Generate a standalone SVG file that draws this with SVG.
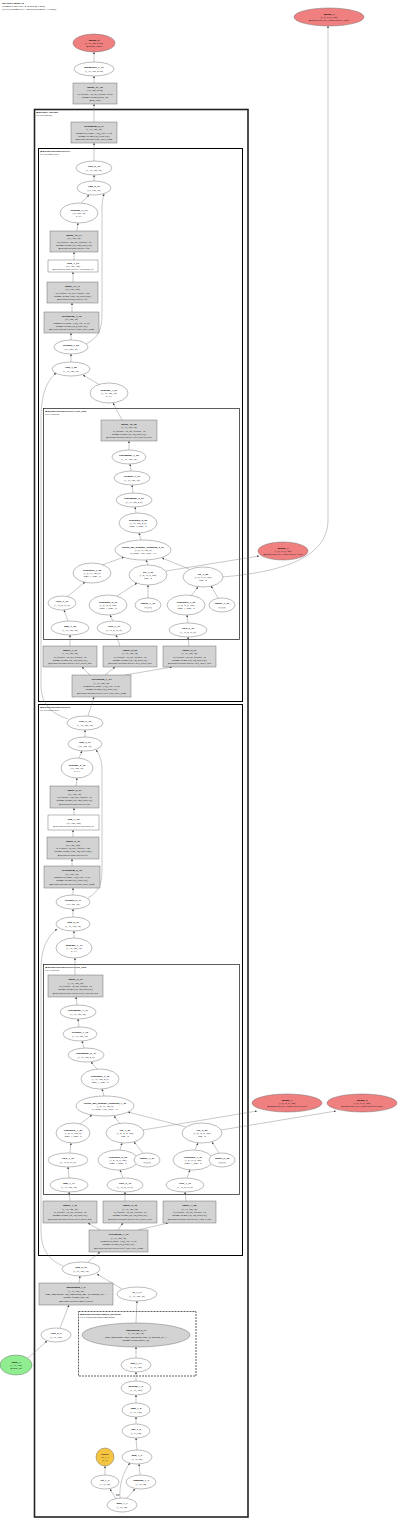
<svg xmlns="http://www.w3.org/2000/svg" width="400" height="1520" viewBox="0 0 400 1520">
<style>
text{font-family:"Liberation Serif","Times New Roman",serif;font-size:2.5px;fill:#000}
.n text{text-anchor:middle}
.b{font-weight:bold;font-size:2.8px}
.e{fill:#fff;stroke:#555;stroke-width:0.4}
.g{fill:#d3d3d3;stroke:#555;stroke-width:0.4}
.o{fill:#f08080;stroke:#555;stroke-width:0.4}
.in{fill:#90ee90;stroke:#555;stroke-width:0.4}
.y{fill:#f5c542;stroke:#555;stroke-width:0.4}
.c0{fill:none;stroke:#222;stroke-width:1.6}
.c1{fill:none;stroke:#000;stroke-width:1}
.c2{fill:none;stroke:#333;stroke-width:0.8}
.cd{fill:none;stroke:#333;stroke-width:0.8;stroke-dasharray:2,1}
.ct{font-size:2.5px}
.ctb{font-size:2.7px;font-weight:bold}
.tt{font-size:2.7px}
#edges path{fill:none;stroke:#777;stroke-width:0.4;marker-end:url(#ah)}
</style>
<defs>
<marker id="ah" viewBox="0 0 10 10" refX="10" refY="5" markerWidth="2.2" markerHeight="2.2" markerUnits="userSpaceOnUse" orient="auto"><path d="M0,0 L10,5 L0,10 z" fill="#444"/></marker>
</defs>
<rect width="400" height="1520" fill="#fff"/>
<g id="title">
<text x="2" y="3.6" class="ctb">GPTForCausalLM</text>
<text x="2" y="6.7" class="tt">Estimated total size: 4.34 MB (4.3 MB)</text>
<text x="2" y="9.8" class="tt">#(GPU) params/cell: 1.02 MB (trainable: 1.0 MB)</text>
</g>
<g id="clusters">
<rect class="c0" x="34.5" y="109.5" width="213.5" height="1407.5"/>
<text x="36" y="113.3" class="ctb">@decoder: decoder</text>
<text x="36" y="116.2" class="ct">GPTDecoder(0)</text>
<rect class="c1" x="38.5" y="148.5" width="204" height="553"/>
<text x="40" y="152" class="ctb">@decoder.decoder.layers.1</text>
<text x="40" y="154.9" class="ct">GPTDecoderLayer</text>
<rect class="c2" x="43.5" y="408.5" width="196" height="231"/>
<text x="45" y="412" class="ctb">@decoder.decoder.layers.1.self_attn</text>
<text x="45" y="414.9" class="ct">GPTAttention</text>
<rect class="c1" x="38.5" y="704.5" width="204" height="551"/>
<text x="40" y="708" class="ctb">@decoder.decoder.layers.0</text>
<text x="40" y="710.9" class="ct">GPTDecoderLayer</text>
<rect class="c2" x="43.5" y="964.5" width="196" height="230"/>
<text x="45" y="968" class="ctb">@decoder.decoder.layers.0.self_attn</text>
<text x="45" y="970.9" class="ct">GPTAttention</text>
<rect class="cd" x="78.5" y="1311.5" width="117.5" height="64.5"/>
<text x="80" y="1315" class="ctb">@decoder.decoder.embed_positions</text>
<text x="80" y="1317.9" class="ct">GPTLearnedPositionalEmbedding</text>
</g>
<g id="edges">
<path d="M94,62 L94,52"/>
<path d="M94,83 L94,76"/>
<path d="M94,122 L94,104"/>
<path d="M94,161 L94,143"/>
<path d="M94,181 L94,175"/>
<path d="M81,203 L89,195"/>
<path d="M86,344 C98,338 102,330 102,315 L102,210 C102,202 103,198 104,194"/>
<path d="M77,231 L78,223"/>
<path d="M74,260 L74,252"/>
<path d="M73,282 L73,272"/>
<path d="M72,312 L72,303"/>
<path d="M71,340 L71,333"/>
<path d="M71,362 L71,354"/>
<path d="M100,385 L83,375"/>
<path d="M68,719 C50,713 41,703 41,685 L41,420 C41,395 46,382 56,373"/>
<path d="M122,420 L113,403"/>
<path d="M129,450 L129,441"/>
<path d="M131,471 L130,464"/>
<path d="M133,493 L132,485"/>
<path d="M136,513 L135,507"/>
<path d="M141,540 L139,533"/>
<path d="M102,565 L124,557"/>
<path d="M148,565 L146,560"/>
<path d="M189,569 L162,558"/>
<path d="M166,571 L259,556"/>
<path d="M222,577 C270,573 328,562 328,520 L328,26"/>
<path d="M67,597 L85,582"/>
<path d="M117,596 L137,583"/>
<path d="M148,598 L148,585"/>
<path d="M191,596 L198,587"/>
<path d="M218,598 L211,586"/>
<path d="M68,621 L64,610"/>
<path d="M113,621 L110,615"/>
<path d="M188,623 L187,615"/>
<path d="M70,646 L70,635"/>
<path d="M120,646 L116,635"/>
<path d="M189,646 L188,637"/>
<path d="M90,675 L82,667"/>
<path d="M105,675 L115,667"/>
<path d="M125,675 L172,667"/>
<path d="M88,716 L94,697"/>
<path d="M85,737 L85,730"/>
<path d="M79,758 L82,751"/>
<path d="M88,898 C98,892 102,885 102,870 L102,770 C102,760 99,754 96,750"/>
<path d="M76,786 L77,778"/>
<path d="M74,815 L74,808"/>
<path d="M73,837 L73,830"/>
<path d="M72,866 L72,859"/>
<path d="M73,895 L73,888"/>
<path d="M73,917 L73,909"/>
<path d="M74,938 L74,931"/>
<path d="M63,1266 C49,1260 41,1250 41,1230 L41,970 C41,950 46,938 57,929"/>
<path d="M75,975 L75,958"/>
<path d="M77,1005 L76,997"/>
<path d="M79,1027 L78,1019"/>
<path d="M84,1048 L82,1041"/>
<path d="M97,1069 L91,1062"/>
<path d="M104,1096 L102,1089"/>
<path d="M80,1124 L92,1115"/>
<path d="M120,1124 L114,1116"/>
<path d="M186,1127 L128,1112"/>
<path d="M143,1130 L257,1111"/>
<path d="M221,1130 L336,1111"/>
<path d="M70,1153 L71,1143"/>
<path d="M120,1150 L122,1143"/>
<path d="M143,1153 L134,1142"/>
<path d="M195,1150 L198,1143"/>
<path d="M219,1153 L212,1142"/>
<path d="M69,1178 L68,1167"/>
<path d="M123,1178 L120,1170"/>
<path d="M187,1178 L190,1170"/>
<path d="M70,1201 L69,1192"/>
<path d="M125,1201 L125,1192"/>
<path d="M186,1201 L185,1192"/>
<path d="M100,1230 L88,1223"/>
<path d="M118,1230 L123,1223"/>
<path d="M138,1230 L168,1223"/>
<path d="M88,1262 L100,1252"/>
<path d="M79,1283 L80,1276"/>
<path d="M122,1289 L97,1274"/>
<path d="M60,1328 L69,1305"/>
<path d="M28,1358 L47,1341"/>
<path d="M136,1323 L137,1301"/>
<path d="M136,1358 L136,1347"/>
<path d="M136,1381 L136,1372"/>
<path d="M136,1403 L136,1395"/>
<path d="M136,1424 L136,1417"/>
<path d="M137,1450 L136,1438"/>
<path d="M140,1475 L139,1464"/>
<path d="M120,1498 C119,1485 123,1472 130,1463"/>
<path d="M127,1498 L135,1489"/>
<path d="M116,1499 L110,1489"/>
<path d="M105,1475 L105,1466"/>
<text x="116" y="1494.5" style="font-size:2.8px;font-weight:bold;text-decoration:underline">LT</text>
</g>
<g id="output_0" class="n"><ellipse class="o" cx="94" cy="43" rx="21" ry="9"/><text x="94" y="40.6"><tspan class="b">output_0</tspan><tspan x="94" dy="3.4">(1, 16, 128, 8192)</tspan><tspan x="94" dy="3.4">@output_logits</tspan></text></g>
<g id="output_4" class="n"><ellipse class="o" cx="329" cy="17" rx="35" ry="9"/><text x="329" y="14.6"><tspan class="b">output_4</tspan><tspan x="329" dy="3.4">(1, 4, 16, 8, 128)</tspan><tspan x="329" dy="3.4">@output.past_key_values.layers.1.value</tspan></text></g>
<g id="unsqueeze_1_79" class="n"><ellipse class="e" cx="94" cy="69" rx="20" ry="7"/><text x="94" y="68.3"><tspan class="b">unsqueeze_1_79</tspan><tspan x="94" dy="3.4">(1, 16, 128, 8192)</tspan></text></g>
<g id="linear_51_78" class="n"><rect class="g" x="73" y="83" width="44" height="21"/><text x="95" y="87.7"><tspan class="b">linear_51_78</tspan><tspan x="95" dy="3.4">(16, 128, 8192)</tspan><tspan x="95" dy="3.4">in_features=32, out_features=8192</tspan><tspan x="95" dy="3.4">params: weight (8192, 32)</tspan><tspan x="95" dy="3.4">@lm_head</tspan></text></g>
<g id="layernorm_0_77" class="n"><rect class="g" x="71" y="122" width="46" height="21"/><text x="94" y="126.7"><tspan class="b">layernorm_0_77</tspan><tspan x="94" dy="3.4">(1, 16, 128, 32)</tspan><tspan x="94" dy="3.4">normalized_shape=(32,), eps=1e-05</tspan><tspan x="94" dy="3.4">params: weight (32,), bias (32,)</tspan><tspan x="94" dy="3.4">@decoder.decoder.final_layer_norm</tspan></text></g>
<g id="view_6_76" class="n"><ellipse class="e" cx="94" cy="168" rx="18" ry="7"/><text x="94" y="167.3"><tspan class="b">view_6_76</tspan><tspan x="94" dy="3.4">(1, 16, 128, 32)</tspan></text></g>
<g id="add_6_75" class="n"><ellipse class="e" cx="94" cy="188" rx="17" ry="7"/><text x="94" y="187.3"><tspan class="b">add_6_75</tspan><tspan x="94" dy="3.4">(16, 128, 32)</tspan></text></g>
<g id="dropout_4_74" class="n"><ellipse class="e" cx="79" cy="213" rx="19" ry="10"/><text x="79" y="210.6"><tspan class="b">dropout_4_74</tspan><tspan x="79" dy="3.4">(16, 128, 32)</tspan><tspan x="79" dy="3.4">p=0.1</tspan></text></g>
<g id="linear_12_73" class="n"><rect class="g" x="50" y="231" width="48" height="21"/><text x="74" y="235.7"><tspan class="b">linear_12_73</tspan><tspan x="74" dy="3.4">(16, 128, 32)</tspan><tspan x="74" dy="3.4">in_features=128, out_features=32</tspan><tspan x="74" dy="3.4">params: weight (32, 128), bias (32,)</tspan><tspan x="74" dy="3.4">@decoder.decoder.layers.1.fc2</tspan></text></g>
<g id="relu_3_72" class="n"><rect class="e" x="48" y="260" width="50" height="12"/><text x="73" y="263.6"><tspan class="b">relu_3_72</tspan><tspan x="73" dy="3.4">(16, 128, 128)</tspan><tspan x="73" dy="3.4">@decoder.decoder.layers.1.activation_fn</tspan></text></g>
<g id="linear_11_71" class="n"><rect class="g" x="47" y="282" width="51" height="21"/><text x="72.5" y="286.7"><tspan class="b">linear_11_71</tspan><tspan x="72.5" dy="3.4">(16, 128, 128)</tspan><tspan x="72.5" dy="3.4">in_features=32, out_features=128</tspan><tspan x="72.5" dy="3.4">params: weight (128, 32), bias (128,)</tspan><tspan x="72.5" dy="3.4">@decoder.decoder.layers.1.fc1</tspan></text></g>
<g id="layernorm_3_70" class="n"><rect class="g" x="44" y="312" width="55" height="21"/><text x="71.5" y="316.7"><tspan class="b">layernorm_3_70</tspan><tspan x="71.5" dy="3.4">(16, 128, 32)</tspan><tspan x="71.5" dy="3.4">normalized_shape=(32,), eps=1e-05</tspan><tspan x="71.5" dy="3.4">params: weight (32,), bias (32,)</tspan><tspan x="71.5" dy="3.4">@decoder.decoder.layers.1.final_layer_norm</tspan></text></g>
<g id="reshape_3_69" class="n"><ellipse class="e" cx="71" cy="347" rx="17" ry="7"/><text x="71" y="346.3"><tspan class="b">reshape_3_69</tspan><tspan x="71" dy="3.4">(16, 128, 32)</tspan></text></g>
<g id="add_3_68" class="n"><ellipse class="e" cx="71" cy="369" rx="19" ry="7"/><text x="71" y="368.3"><tspan class="b">add_3_68</tspan><tspan x="71" dy="3.4">(1, 16, 128, 32)</tspan></text></g>
<g id="dropout_3_67" class="n"><ellipse class="e" cx="109" cy="393" rx="19" ry="10"/><text x="109" y="390.6"><tspan class="b">dropout_3_67</tspan><tspan x="109" dy="3.4">(1, 16, 128, 32)</tspan><tspan x="109" dy="3.4">p=0.1</tspan></text></g>
<g id="linear_10_66" class="n"><rect class="g" x="101" y="420" width="56" height="21"/><text x="129" y="424.7"><tspan class="b">linear_10_66</tspan><tspan x="129" dy="3.4">(1, 16, 128, 32)</tspan><tspan x="129" dy="3.4">in_features=32, out_features=32</tspan><tspan x="129" dy="3.4">params: weight (32, 32), bias (32,)</tspan><tspan x="129" dy="3.4">@decoder.decoder.layers.1.self_attn.out_proj</tspan></text></g>
<g id="contiguous_3_65" class="n"><ellipse class="e" cx="129" cy="457" rx="17" ry="7"/><text x="129" y="456.3"><tspan class="b">contiguous_3_65</tspan><tspan x="129" dy="3.4">(1, 16, 128, 32)</tspan></text></g>
<g id="reshape_3_64" class="n"><ellipse class="e" cx="132" cy="478" rx="18" ry="7"/><text x="132" y="477.3"><tspan class="b">reshape_3_64</tspan><tspan x="132" dy="3.4">(1, 16, 128, 32)</tspan></text></g>
<g id="contiguous_2_63" class="n"><ellipse class="e" cx="134" cy="500" rx="18" ry="7"/><text x="134" y="499.3"><tspan class="b">contiguous_2_63</tspan><tspan x="134" dy="3.4">(1, 16, 128, 4, 8)</tspan></text></g>
<g id="transpose_8_62" class="n"><ellipse class="e" cx="138" cy="523" rx="19" ry="10"/><text x="138" y="520.6"><tspan class="b">transpose_8_62</tspan><tspan x="138" dy="3.4">(1, 16, 128, 4, 8)</tspan><tspan x="138" dy="3.4">dim0=1, dim1=2</tspan></text></g>
<g id="sdpa_2_61" class="n"><ellipse class="e" cx="143" cy="550" rx="28" ry="10"/><text x="143" y="547.6"><tspan class="b">scaled_dot_product_attention_2_61</tspan><tspan x="143" dy="3.4">(1, 4, 16, 128, 8)</tspan><tspan x="143" dy="3.4">is_causal=True, scale=1.0</tspan></text></g>
<g id="output_3" class="n"><ellipse class="o" cx="283" cy="551" rx="25" ry="9"/><text x="283" y="548.6"><tspan class="b">output_3</tspan><tspan x="283" dy="3.4">(1, 4, 16, 8, 128)</tspan><tspan x="283" dy="3.4">@output.past_key_values.layers.1.keys</tspan></text></g>
<g id="transpose_5_58" class="n"><ellipse class="e" cx="92" cy="573" rx="19" ry="10"/><text x="92" y="570.6"><tspan class="b">transpose_5_58</tspan><tspan x="92" dy="3.4">(1, 4, 16, 128, 8)</tspan><tspan x="92" dy="3.4">dim0=1, dim1=2</tspan></text></g>
<g id="cat_3_59" class="n"><ellipse class="e" cx="148" cy="575" rx="19" ry="10"/><text x="148" y="572.6"><tspan class="b">cat_3_59</tspan><tspan x="148" dy="3.4">(1, 4, 16, 8, 128)</tspan><tspan x="148" dy="3.4">dim=-2</tspan></text></g>
<g id="cat_4_60" class="n"><ellipse class="e" cx="203" cy="577" rx="20" ry="10"/><text x="203" y="574.6"><tspan class="b">cat_4_60</tspan><tspan x="203" dy="3.4">(1, 4, 16, 8, 128)</tspan><tspan x="203" dy="3.4">dim=-2</tspan></text></g>
<g id="view_4_57" class="n"><ellipse class="e" cx="62" cy="603" rx="14" ry="7"/><text x="62" y="602.3"><tspan class="b">view_4_57</tspan><tspan x="62" dy="3.4">(1, 16, 4, 16, 8)</tspan></text></g>
<g id="transpose_6_54" class="n"><ellipse class="e" cx="108" cy="605" rx="19" ry="10"/><text x="108" y="602.6"><tspan class="b">transpose_6_54</tspan><tspan x="108" dy="3.4">(1, 4, 16, 8, 128)</tspan><tspan x="108" dy="3.4">dim0=1, dim1=2</tspan></text></g>
<g id="tensor_3_55" class="n"><ellipse class="e" cx="148" cy="605" rx="13" ry="7"/><text x="148" y="604.3"><tspan class="b">tensor_3_55</tspan><tspan x="148" dy="3.4">(0,) [0]</tspan></text></g>
<g id="transpose_7_56" class="n"><ellipse class="e" cx="186" cy="605" rx="19" ry="10"/><text x="186" y="602.6"><tspan class="b">transpose_7_56</tspan><tspan x="186" dy="3.4">(1, 4, 16, 8, 128)</tspan><tspan x="186" dy="3.4">dim0=1, dim1=2</tspan></text></g>
<g id="tensor_4_59" class="n"><ellipse class="e" cx="222" cy="605" rx="13" ry="7"/><text x="222" y="604.3"><tspan class="b">tensor_4_59</tspan><tspan x="222" dy="3.4">(0,) [0]</tspan></text></g>
<g id="mul_4_48" class="n"><ellipse class="e" cx="70" cy="628" rx="19" ry="7"/><text x="70" y="627.3"><tspan class="b">mul_4_48</tspan><tspan x="70" dy="3.4">(1, 16, 128, 32)</tspan></text></g>
<g id="view_7_53" class="n"><ellipse class="e" cx="114" cy="628" rx="17" ry="7"/><text x="114" y="627.3"><tspan class="b">view_7_53</tspan><tspan x="114" dy="3.4">(1, 16, 4, 16, 8)</tspan></text></g>
<g id="view_6_52" class="n"><ellipse class="e" cx="188" cy="630" rx="19" ry="7"/><text x="188" y="629.3"><tspan class="b">view_6_52</tspan><tspan x="188" dy="3.4">(1, 16, 4, 16, 8)</tspan></text></g>
<g id="linear_7_47" class="n"><rect class="g" x="43" y="646" width="54" height="21"/><text x="70" y="650.7"><tspan class="b">linear_7_47</tspan><tspan x="70" dy="3.4">(1, 16, 128, 32)</tspan><tspan x="70" dy="3.4">in_features=32, out_features=32</tspan><tspan x="70" dy="3.4">params: weight (32, 32), bias (32,)</tspan><tspan x="70" dy="3.4">@decoder.decoder.layers.1.self_attn.q_proj</tspan></text></g>
<g id="linear_8_50" class="n"><rect class="g" x="103" y="646" width="54" height="21"/><text x="130" y="650.7"><tspan class="b">linear_8_50</tspan><tspan x="130" dy="3.4">(1, 16, 128, 32)</tspan><tspan x="130" dy="3.4">in_features=32, out_features=32</tspan><tspan x="130" dy="3.4">params: weight (32, 32), bias (32,)</tspan><tspan x="130" dy="3.4">@decoder.decoder.layers.1.self_attn.k_proj</tspan></text></g>
<g id="linear_9_51" class="n"><rect class="g" x="163" y="646" width="53" height="21"/><text x="189.5" y="650.7"><tspan class="b">linear_9_51</tspan><tspan x="189.5" dy="3.4">(1, 16, 128, 32)</tspan><tspan x="189.5" dy="3.4">in_features=32, out_features=32</tspan><tspan x="189.5" dy="3.4">params: weight (32, 32), bias (32,)</tspan><tspan x="189.5" dy="3.4">@decoder.decoder.layers.1.self_attn.v_proj</tspan></text></g>
<g id="layernorm_1_44" class="n"><rect class="g" x="72" y="675" width="59" height="22"/><text x="101.5" y="680.2"><tspan class="b">layernorm_1_44</tspan><tspan x="101.5" dy="3.4">(1, 16, 128, 32)</tspan><tspan x="101.5" dy="3.4">normalized_shape=(32,), eps=1e-05</tspan><tspan x="101.5" dy="3.4">params: weight (32,), bias (32,)</tspan><tspan x="101.5" dy="3.4">@decoder.decoder.layers.1.self_attn_layer_norm</tspan></text></g>
<g id="view_5_45" class="n"><ellipse class="e" cx="85" cy="723" rx="18" ry="7"/><text x="85" y="722.3"><tspan class="b">view_5_45</tspan><tspan x="85" dy="3.4">(1, 16, 128, 32)</tspan></text></g>
<g id="add_4_43" class="n"><ellipse class="e" cx="85" cy="744" rx="17" ry="7"/><text x="85" y="743.3"><tspan class="b">add_4_43</tspan><tspan x="85" dy="3.4">(16, 128, 32)</tspan></text></g>
<g id="dropout_2_42" class="n"><ellipse class="e" cx="77" cy="768" rx="16" ry="10"/><text x="77" y="765.6"><tspan class="b">dropout_2_42</tspan><tspan x="77" dy="3.4">(16, 128, 32)</tspan><tspan x="77" dy="3.4">p=0.1</tspan></text></g>
<g id="linear_6_41" class="n"><rect class="g" x="50" y="786" width="49" height="22"/><text x="74.5" y="791.2"><tspan class="b">linear_6_41</tspan><tspan x="74.5" dy="3.4">(16, 128, 32)</tspan><tspan x="74.5" dy="3.4">in_features=128, out_features=32</tspan><tspan x="74.5" dy="3.4">params: weight (32, 128), bias (32,)</tspan><tspan x="74.5" dy="3.4">@decoder.decoder.layers.0.fc2</tspan></text></g>
<g id="relu_1_40" class="n"><rect class="e" x="48" y="815" width="51" height="15"/><text x="73.5" y="820.1"><tspan class="b">relu_1_40</tspan><tspan x="73.5" dy="3.4">(16, 128, 128)</tspan><tspan x="73.5" dy="3.4">@decoder.decoder.layers.0.activation_fn</tspan></text></g>
<g id="linear_5_39" class="n"><rect class="g" x="47" y="837" width="52" height="22"/><text x="73" y="842.2"><tspan class="b">linear_5_39</tspan><tspan x="73" dy="3.4">(16, 128, 128)</tspan><tspan x="73" dy="3.4">in_features=32, out_features=128</tspan><tspan x="73" dy="3.4">params: weight (128, 32), bias (128,)</tspan><tspan x="73" dy="3.4">@decoder.decoder.layers.0.fc1</tspan></text></g>
<g id="layernorm_2_38" class="n"><rect class="g" x="44" y="866" width="56" height="22"/><text x="72" y="871.2"><tspan class="b">layernorm_2_38</tspan><tspan x="72" dy="3.4">(16, 128, 32)</tspan><tspan x="72" dy="3.4">normalized_shape=(32,), eps=1e-05</tspan><tspan x="72" dy="3.4">params: weight (32,), bias (32,)</tspan><tspan x="72" dy="3.4">@decoder.decoder.layers.0.final_layer_norm</tspan></text></g>
<g id="reshape_2_37" class="n"><ellipse class="e" cx="73" cy="902" rx="17" ry="7"/><text x="73" y="901.3"><tspan class="b">reshape_2_37</tspan><tspan x="73" dy="3.4">(16, 128, 32)</tspan></text></g>
<g id="add_2_36" class="n"><ellipse class="e" cx="73" cy="924" rx="17" ry="7"/><text x="73" y="923.3"><tspan class="b">add_2_36</tspan><tspan x="73" dy="3.4">(1, 16, 128, 32)</tspan></text></g>
<g id="dropout_1_35" class="n"><ellipse class="e" cx="74" cy="948" rx="18" ry="10"/><text x="74" y="945.6"><tspan class="b">dropout_1_35</tspan><tspan x="74" dy="3.4">(1, 16, 128, 32)</tspan><tspan x="74" dy="3.4">p=0.1</tspan></text></g>
<g id="linear_4_34" class="n"><rect class="g" x="48" y="975" width="55" height="22"/><text x="75.5" y="980.2"><tspan class="b">linear_4_34</tspan><tspan x="75.5" dy="3.4">(1, 16, 128, 32)</tspan><tspan x="75.5" dy="3.4">in_features=32, out_features=32</tspan><tspan x="75.5" dy="3.4">params: weight (32, 32), bias (32,)</tspan><tspan x="75.5" dy="3.4">@decoder.decoder.layers.0.self_attn.out_proj</tspan></text></g>
<g id="contiguous_1_33" class="n"><ellipse class="e" cx="78" cy="1012" rx="18" ry="7"/><text x="78" y="1011.3"><tspan class="b">contiguous_1_33</tspan><tspan x="78" dy="3.4">(1, 16, 128, 32)</tspan></text></g>
<g id="reshape_1_32" class="n"><ellipse class="e" cx="80" cy="1034" rx="17" ry="7"/><text x="80" y="1033.3"><tspan class="b">reshape_1_32</tspan><tspan x="80" dy="3.4">(1, 16, 128, 32)</tspan></text></g>
<g id="contiguous_0_31" class="n"><ellipse class="e" cx="86" cy="1055" rx="18" ry="7"/><text x="86" y="1054.3"><tspan class="b">contiguous_0_31</tspan><tspan x="86" dy="3.4">(1, 16, 128, 4, 8)</tspan></text></g>
<g id="transpose_4_30" class="n"><ellipse class="e" cx="100" cy="1079" rx="19" ry="10"/><text x="100" y="1076.6"><tspan class="b">transpose_4_30</tspan><tspan x="100" dy="3.4">(1, 16, 128, 4, 8)</tspan><tspan x="100" dy="3.4">dim0=1, dim1=2</tspan></text></g>
<g id="sdpa_1_29" class="n"><ellipse class="e" cx="105" cy="1106" rx="29" ry="10"/><text x="105" y="1103.6"><tspan class="b">scaled_dot_product_attention_1_29</tspan><tspan x="105" dy="3.4">(1, 4, 16, 128, 8)</tspan><tspan x="105" dy="3.4">is_causal=True, scale=1.0</tspan></text></g>
<g id="output_1" class="n"><ellipse class="o" cx="287" cy="1103" rx="35" ry="9"/><text x="287" y="1100.6"><tspan class="b">output_1</tspan><tspan x="287" dy="3.4">(1, 4, 16, 8, 128)</tspan><tspan x="287" dy="3.4">@output.past_key_values.layers.0.keys</tspan></text></g>
<g id="output_2" class="n"><ellipse class="o" cx="362" cy="1103" rx="35" ry="9"/><text x="362" y="1100.6"><tspan class="b">output_2</tspan><tspan x="362" dy="3.4">(1, 4, 16, 8, 128)</tspan><tspan x="362" dy="3.4">@output.past_key_values.layers.0.values</tspan></text></g>
<g id="transpose_1_25" class="n"><ellipse class="e" cx="73" cy="1133" rx="17" ry="10"/><text x="73" y="1130.6"><tspan class="b">transpose_1_25</tspan><tspan x="73" dy="3.4">(1, 4, 16, 128, 8)</tspan><tspan x="73" dy="3.4">dim0=1, dim1=2</tspan></text></g>
<g id="cat_1_26" class="n"><ellipse class="e" cx="125" cy="1133" rx="19" ry="10"/><text x="125" y="1130.6"><tspan class="b">cat_1_26</tspan><tspan x="125" dy="3.4">(1, 4, 16, 8, 128)</tspan><tspan x="125" dy="3.4">dim=-2</tspan></text></g>
<g id="cat_2_28" class="n"><ellipse class="e" cx="202" cy="1133" rx="20" ry="10"/><text x="202" y="1130.6"><tspan class="b">cat_2_28</tspan><tspan x="202" dy="3.4">(1, 4, 16, 8, 128)</tspan><tspan x="202" dy="3.4">dim=-2</tspan></text></g>
<g id="view_1_23" class="n"><ellipse class="e" cx="68" cy="1160" rx="20" ry="7"/><text x="68" y="1159.3"><tspan class="b">view_1_23</tspan><tspan x="68" dy="3.4">(1, 16, 4, 16, 8)</tspan></text></g>
<g id="transpose_2_22" class="n"><ellipse class="e" cx="118" cy="1160" rx="20" ry="10"/><text x="118" y="1157.6"><tspan class="b">transpose_2_22</tspan><tspan x="118" dy="3.4">(1, 4, 16, 8, 128)</tspan><tspan x="118" dy="3.4">dim0=1, dim1=2</tspan></text></g>
<g id="tensor_1_24" class="n"><ellipse class="e" cx="147" cy="1160" rx="13" ry="7"/><text x="147" y="1159.3"><tspan class="b">tensor_1_24</tspan><tspan x="147" dy="3.4">(0,) [0]</tspan></text></g>
<g id="transpose_3_27" class="n"><ellipse class="e" cx="193" cy="1160" rx="20" ry="10"/><text x="193" y="1157.6"><tspan class="b">transpose_3_27</tspan><tspan x="193" dy="3.4">(1, 4, 16, 8, 128)</tspan><tspan x="193" dy="3.4">dim0=1, dim1=2</tspan></text></g>
<g id="tensor_2_26" class="n"><ellipse class="e" cx="222" cy="1160" rx="13" ry="7"/><text x="222" y="1159.3"><tspan class="b">tensor_2_26</tspan><tspan x="222" dy="3.4">(0,) [0]</tspan></text></g>
<g id="mul_1_17" class="n"><ellipse class="e" cx="69" cy="1185" rx="19" ry="7"/><text x="69" y="1184.3"><tspan class="b">mul_1_17</tspan><tspan x="69" dy="3.4">(1, 16, 128, 32)</tspan></text></g>
<g id="view_2_19" class="n"><ellipse class="e" cx="125" cy="1185" rx="18" ry="7"/><text x="125" y="1184.3"><tspan class="b">view_2_19</tspan><tspan x="125" dy="3.4">(1, 16, 4, 16, 8)</tspan></text></g>
<g id="view_3_21" class="n"><ellipse class="e" cx="185" cy="1185" rx="19" ry="7"/><text x="185" y="1184.3"><tspan class="b">view_3_21</tspan><tspan x="185" dy="3.4">(1, 16, 4, 16, 8)</tspan></text></g>
<g id="linear_1_16" class="n"><rect class="g" x="43" y="1201" width="54" height="22"/><text x="70" y="1206.2"><tspan class="b">linear_1_16</tspan><tspan x="70" dy="3.4">(1, 16, 128, 32)</tspan><tspan x="70" dy="3.4">in_features=32, out_features=32</tspan><tspan x="70" dy="3.4">params: weight (32, 32), bias (32,)</tspan><tspan x="70" dy="3.4">@decoder.decoder.layers.0.self_attn.q_proj</tspan></text></g>
<g id="linear_2_18" class="n"><rect class="g" x="103" y="1201" width="54" height="22"/><text x="130" y="1206.2"><tspan class="b">linear_2_18</tspan><tspan x="130" dy="3.4">(1, 16, 128, 32)</tspan><tspan x="130" dy="3.4">in_features=32, out_features=32</tspan><tspan x="130" dy="3.4">params: weight (32, 32), bias (32,)</tspan><tspan x="130" dy="3.4">@decoder.decoder.layers.0.self_attn.k_proj</tspan></text></g>
<g id="linear_3_20" class="n"><rect class="g" x="163" y="1201" width="53" height="22"/><text x="189.5" y="1206.2"><tspan class="b">linear_3_20</tspan><tspan x="189.5" dy="3.4">(1, 16, 128, 32)</tspan><tspan x="189.5" dy="3.4">in_features=32, out_features=32</tspan><tspan x="189.5" dy="3.4">params: weight (32, 32), bias (32,)</tspan><tspan x="189.5" dy="3.4">@decoder.decoder.layers.0.self_attn.v_proj</tspan></text></g>
<g id="layernorm_1_12" class="n"><rect class="g" x="89" y="1230" width="59" height="22"/><text x="118.5" y="1235.2"><tspan class="b">layernorm_1_12</tspan><tspan x="118.5" dy="3.4">(1, 16, 128, 32)</tspan><tspan x="118.5" dy="3.4">normalized_shape=(32,), eps=1e-05</tspan><tspan x="118.5" dy="3.4">params: weight (32,), bias (32,)</tspan><tspan x="118.5" dy="3.4">@decoder.decoder.layers.0.self_attn_layer_norm</tspan></text></g>
<g id="add_2_10" class="n"><ellipse class="e" cx="81" cy="1269" rx="19" ry="7"/><text x="81" y="1268.3"><tspan class="b">add_2_10</tspan><tspan x="81" dy="3.4">(1, 16, 128, 32)</tspan></text></g>
<g id="embedding_1_2" class="n"><rect class="g" x="39" y="1283" width="74" height="22"/><text x="76" y="1288.2"><tspan class="b">embedding_1_2</tspan><tspan x="76" dy="3.4">(1, 16, 128, 32)</tspan><tspan x="76" dy="3.4">num_embeddings=128, embedding_dim=32, padding_idx=1</tspan><tspan x="76" dy="3.4">params: weight (128, 32)</tspan><tspan x="76" dy="3.4">@decoder.decoder.embed_tokens</tspan></text></g>
<g id="to_1_11" class="n"><ellipse class="e" cx="137" cy="1294" rx="20" ry="7"/><text x="137" y="1293.3"><tspan class="b">to_1_11</tspan><tspan x="137" dy="3.4">(1, 16, 128, 32)</tspan></text></g>
<g id="embedding_2_14" class="n"><ellipse class="g" cx="136" cy="1335" rx="54" ry="12"/><text x="136" y="1330.9"><tspan class="b">embedding_2_14</tspan><tspan x="136" dy="3.4">(1, 16, 128, 32)</tspan><tspan x="136" dy="3.4">num_embeddings=2050, embedding_dim=32, padding_idx=1</tspan><tspan x="136" dy="3.4">params: weight (2050, 32)</tspan></text></g>
<g id="view_0_5" class="n"><ellipse class="e" cx="56" cy="1335" rx="15" ry="7"/><text x="56" y="1334.3"><tspan class="b">view_0_5</tspan><tspan x="56" dy="3.4">(1, 16, 128)</tspan></text></g>
<g id="input_1" class="n"><ellipse class="in" cx="16" cy="1365" rx="16" ry="10"/><text x="16" y="1362.6"><tspan class="b">input_1</tspan><tspan x="16" dy="3.4">(1, 16, 128)</tspan><tspan x="16" dy="3.4">@input_ids</tspan></text></g>
<g id="add_1_13" class="n"><ellipse class="e" cx="136" cy="1365" rx="15" ry="7"/><text x="136" y="1364.3"><tspan class="b">add_1_13</tspan><tspan x="136" dy="3.4">(1, 16, 128)</tspan></text></g>
<g id="getitem_1_9" class="n"><ellipse class="e" cx="136" cy="1388" rx="15" ry="7"/><text x="136" y="1387.3"><tspan class="b">getitem_1_9</tspan><tspan x="136" dy="3.4">(1, 16, 128)</tspan></text></g>
<g id="long_1_8" class="n"><ellipse class="e" cx="136" cy="1410" rx="14" ry="7"/><text x="136" y="1409.3"><tspan class="b">long_1_8</tspan><tspan x="136" dy="3.4">(1, 16, 128)</tspan></text></g>
<g id="sub_1_6" class="n"><ellipse class="e" cx="136" cy="1431" rx="14" ry="7"/><text x="136" y="1430.3"><tspan class="b">sub_1_6</tspan><tspan x="136" dy="3.4">(1, 16, 64)</tspan></text></g>
<g id="TRUE" class="n"><circle class="y" cx="105" cy="1457" r="9"/><text x="105" y="1454.6"><tspan class="b">TRUE</tspan><tspan x="105" dy="3.4">cb_1_1</tspan><tspan x="105" dy="3.4">(1, 1)</tspan></text></g>
<g id="mul_1_5" class="n"><ellipse class="e" cx="137" cy="1457" rx="15" ry="7"/><text x="137" y="1456.3"><tspan class="b">mul_1_5</tspan><tspan x="137" dy="3.4">(1, 16, 64)</tspan></text></g>
<g id="eq_1_4" class="n"><ellipse class="e" cx="105" cy="1482" rx="14" ry="7"/><text x="105" y="1481.3"><tspan class="b">eq_1_4</tspan><tspan x="105" dy="3.4">(1, 16, 64)</tspan></text></g>
<g id="cumsum_1_4" class="n"><ellipse class="e" cx="141" cy="1482" rx="15" ry="7"/><text x="141" y="1481.3"><tspan class="b">cumsum_1_4</tspan><tspan x="141" dy="3.4">(1, 16, 64)</tspan></text></g>
<g id="ones_1_3" class="n"><ellipse class="e" cx="122" cy="1505" rx="15" ry="7"/><text x="122" y="1504.3"><tspan class="b">ones_1_3</tspan><tspan x="122" dy="3.4">(1, 16, 64)</tspan></text></g>
</svg>
